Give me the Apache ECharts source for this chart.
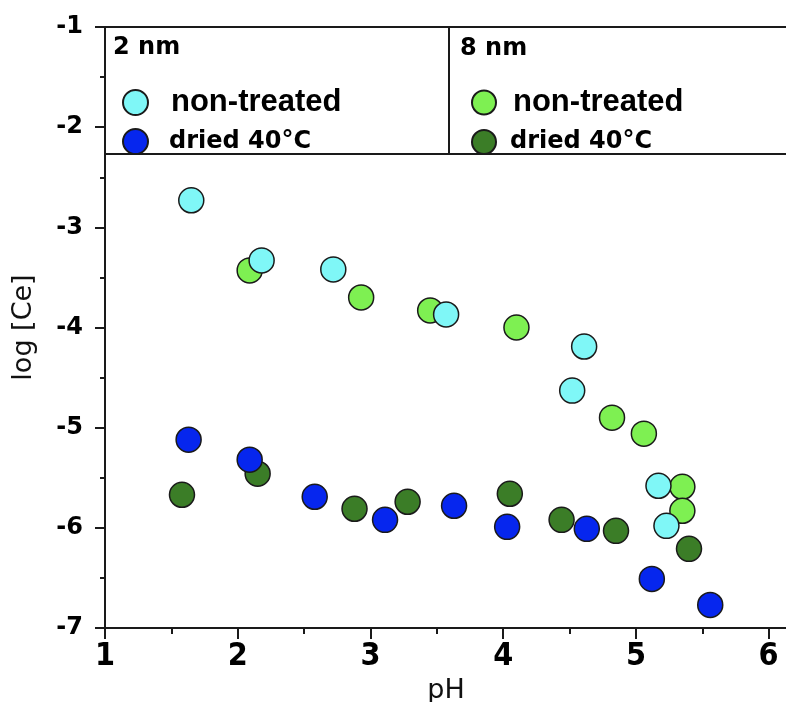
<!DOCTYPE html>
<html>
<head>
<meta charset="utf-8">
<title>log [Ce] vs pH</title>
<script src="https://cdn.jsdelivr.net/npm/echarts@6/dist/echarts.min.js"></script>
<style>
  html, body { margin: 0; padding: 0; background: #fff; }
  #chart { width: 786px; height: 702px; }
</style>
</head>
<body>
<div id="chart"></div>
<script>
// 2 nm particles
const ph2nmNonTreated     = [1.65, 2.18, 2.72, 3.57, 4.61, 4.52, 5.17, 5.23];
const logCe2nmNonTreated  = [-2.73, -3.33, -3.42, -3.87, -4.19, -4.63, -5.58, -5.98];
const ph2nmDried          = [1.63, 2.09, 2.58, 3.11, 3.63, 4.03, 4.63, 5.12, 5.56];
const logCe2nmDried       = [-5.12, -5.32, -5.69, -5.92, -5.78, -5.99, -6.01, -6.51, -6.77];

// 8 nm particles
const ph8nmNonTreated     = [2.09, 2.93, 3.45, 4.10, 4.82, 5.06, 5.35, 5.35];
const logCe8nmNonTreated  = [-3.43, -3.70, -3.83, -4.00, -4.90, -5.06, -5.59, -5.83];
const ph8nmDried          = [1.58, 2.15, 2.88, 3.28, 4.05, 4.44, 4.85, 5.40];
const logCe8nmDried       = [-5.67, -5.46, -5.81, -5.74, -5.66, -5.92, -6.03, -6.21];

// axis ticks
const xTicks = [1, 2, 3, 4, 5, 6];
const yTicks = [-7, -6, -5, -4, -3, -2, -1];

const pairs = (xs, ys) => xs.map((x, i) => [x, ys[i]]);

const INK = '#1a1a1a';
const colors = {
  cyan: '#7ff7f7',
  blue: '#0626ee',
  lime: '#7ef052',
  forest: '#3b7d27'
};

function scatter(name, data, color, z) {
  return {
    name: name,
    type: 'scatter',
    data: data,
    symbol: 'circle',
    symbolSize: 25,
    z: z,
    itemStyle: { color: color, borderColor: INK, borderWidth: 1.5, opacity: 1 },
    emphasis: { disabled: true }
  };
}

const stripSize = n => n.replace(/^\d+ nm /, '');

function legendRich(padNT, padDR) {
  return {
    nt: { fontFamily: 'Liberation Sans, Arial, sans-serif', fontWeight: 'bold', fontSize: 31, lineHeight: 30, color: '#000', padding: [0, 0, 0, padNT] },
    dr: { fontFamily: 'DejaVu Sans, sans-serif', fontWeight: 'bold', fontSize: 24, lineHeight: 25, color: '#000', padding: [0, 0, 0, padDR] }
  };
}
const legendFormatter = n => {
  const t = stripSize(n);
  return t === 'non-treated' ? '{nt|' + t + '}' : '{dr|' + t + '}';
};

const chart = echarts.init(document.getElementById('chart'), null, { renderer: 'canvas' });

const option = {
  animation: false,
  backgroundColor: '#ffffff',
  // the pH axis runs on past the right edge of the page
  grid: { left: 105, right: -49, top: 27, bottom: 74, containLabel: false, outerBoundsMode: 'none' },
  xAxis: {
    type: 'value',
    min: xTicks[0],
    max: 6.5,
    interval: 1,
    name: 'pH',
    nameLocation: 'middle',
    nameGap: 45,
    // shift the title left so it sits under the visible part of the axis
    nameTextStyle: { fontFamily: 'DejaVu Sans, sans-serif', fontSize: 27, color: '#111', padding: [0, 48, 0, 0] },
    axisLine: { show: true, onZero: false, lineStyle: { color: INK, width: 2 } },
    axisTick: { show: true, inside: false, length: 11, lineStyle: { color: INK, width: 2 } },
    minorTick: { show: true, splitNumber: 2, length: 6, lineStyle: { color: INK, width: 2 } },
    splitLine: { show: false },
    minorSplitLine: { show: false },
    axisLabel: {
      margin: 13,
      fontFamily: 'Liberation Sans Narrow, DejaVu Sans Condensed, Arial Narrow, sans-serif',
      fontWeight: 'bold',
      fontSize: 32,
      color: '#000',
      formatter: v => (xTicks.indexOf(v) >= 0 ? String(v) : '')
    }
  },
  yAxis: {
    type: 'value',
    min: yTicks[0],
    max: yTicks[yTicks.length - 1],
    interval: 1,
    name: 'log [Ce]',
    nameLocation: 'middle',
    nameRotate: 90,
    nameGap: 68,
    nameTextStyle: { fontFamily: 'DejaVu Sans, sans-serif', fontSize: 27, color: '#111' },
    axisLine: { show: true, onZero: false, lineStyle: { color: INK, width: 2 } },
    axisTick: { show: true, inside: false, length: 10, lineStyle: { color: INK, width: 2 } },
    minorTick: { show: true, splitNumber: 2, length: 5, lineStyle: { color: INK, width: 2 } },
    splitLine: { show: false },
    minorSplitLine: { show: false },
    axisLabel: {
      margin: 22,
      fontFamily: 'DejaVu Sans, sans-serif',
      fontWeight: 'bold',
      fontSize: 24,
      color: '#000',
      formatter: v => (yTicks.indexOf(v) >= 0 ? String(v) : '')
    }
  },
  legend: [
    {
      data: ['2 nm non-treated', '2 nm dried 40°C'],
      orient: 'vertical',
      left: 117,
      top: 82,
      itemWidth: 25,
      itemHeight: 25,
      itemGap: 10,
      icon: 'circle',
      selectedMode: false,
      formatter: legendFormatter,
      textStyle: { rich: legendRich(18, 16) }
    },
    {
      data: ['8 nm non-treated', '8 nm dried 40°C'],
      orient: 'vertical',
      left: 466,
      top: 82,
      itemWidth: 24,
      itemHeight: 24,
      itemGap: 11,
      icon: 'circle',
      selectedMode: false,
      formatter: legendFormatter,
      textStyle: { rich: legendRich(12, 9) }
    }
  ],
  graphic: [
    // legend frame: lower edge and centre divider
    { type: 'line', shape: { x1: 105, y1: 154, x2: 786, y2: 154 }, style: { stroke: INK, lineWidth: 2 }, z: 50 },
    { type: 'line', shape: { x1: 449, y1: 27, x2: 449, y2: 154 }, style: { stroke: INK, lineWidth: 2 }, z: 50 },
    // top edge of the frame, along the upper limit of the y axis
    { type: 'line', shape: { x1: 105, y1: 27, x2: 786, y2: 27 }, style: { stroke: INK, lineWidth: 2 }, z: 50 },
    { type: 'text', left: 113, top: 36, style: { text: '2 nm', fontFamily: 'DejaVu Sans, sans-serif', fontWeight: 'bold', fontSize: 24, fill: '#000' }, z: 50 },
    { type: 'text', left: 460, top: 37, style: { text: '8 nm', fontFamily: 'DejaVu Sans, sans-serif', fontWeight: 'bold', fontSize: 24, fill: '#000' }, z: 50 }
  ],
  series: [
    scatter('8 nm non-treated', pairs(ph8nmNonTreated, logCe8nmNonTreated), colors.lime, 2),
    scatter('8 nm dried 40°C', pairs(ph8nmDried, logCe8nmDried), colors.forest, 3),
    scatter('2 nm non-treated', pairs(ph2nmNonTreated, logCe2nmNonTreated), colors.cyan, 4),
    scatter('2 nm dried 40°C', pairs(ph2nmDried, logCe2nmDried), colors.blue, 5)
  ]
};

chart.setOption(option);
</script>
</body>
</html>
